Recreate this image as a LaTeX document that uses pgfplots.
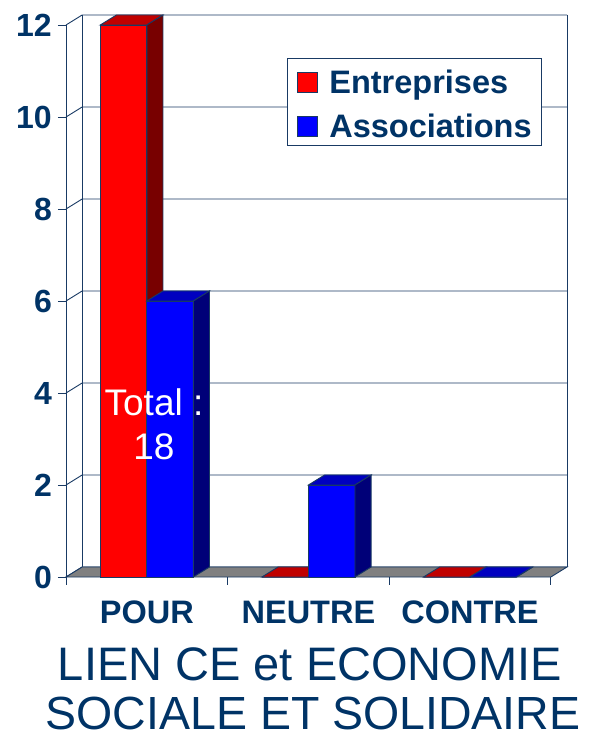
\documentclass[border=0pt]{standalone}
\usepackage{pgfplots}
\pgfplotsset{compat=1.18}
\usepackage{fontspec}
\setmainfont{Liberation Sans}
\definecolor{navy}{RGB}{0,51,102}
\definecolor{gridc}{RGB}{25,58,100}
\definecolor{rtop}{RGB}{192,0,0}
\definecolor{rside}{RGB}{120,0,0}
\definecolor{btop}{RGB}{0,0,192}
\definecolor{bside}{RGB}{0,0,120}
\definecolor{floorc}{RGB}{128,128,128}

\newcommand\ddx{0.1}
\newcommand\ddy{0.2174}
\newcommand\bw{0.288}
% x0, value, front, top, side
\newcommand\tdbar[5]{%
  \pgfmathsetmacro\xa{#1}%
  \pgfmathsetmacro\xb{#1+\bw}%
  \pgfmathsetmacro\xc{#1+\bw+\ddx}%
  \pgfmathsetmacro\xd{#1+\ddx}%
  \pgfmathsetmacro\yt{#2+\ddy}%
  \addplot[forget plot, fill=#3, draw=gridc, line width=0.9bp] coordinates {(\xa,0) (\xb,0) (\xb,#2) (\xa,#2)} -- cycle;
  \addplot[forget plot, fill=#4, draw=gridc, line width=0.9bp] coordinates {(\xa,#2) (\xb,#2) (\xc,\yt) (\xd,\yt)} -- cycle;
  \addplot[forget plot, fill=#5, draw=gridc, line width=0.9bp] coordinates {(\xb,0) (\xc,\ddy) (\xc,\yt) (\xb,#2)} -- cycle;
}

\begin{document}
\begin{tikzpicture}
\useasboundingbox (-66bp,-161bp) rectangle (528bp,577bp);
\begin{axis}[
  scale only axis, width=501bp, height=562bp,
  xmin=-0.5, xmax=2.6, ymin=0, ymax=12.2174,
  clip=false,
  axis line style={draw=none},
  ytick={0,2,4,6,8,10,12},
  xtick={0,1,2}, xticklabels={POUR,NEUTRE,CONTRE},
  ytick pos=left, xtick pos=bottom,
  tick align=outside, major tick length=8bp,
  ytick style={draw=gridc, line width=0.9bp},
  xtick style={draw=none},
  /pgf/number format/assume math mode=true,
  yticklabel style={font=\fontsize{32bp}{38bp}\selectfont\bfseries, text=navy, inner sep=0pt, xshift=-6bp},
  xticklabel style={font=\fontsize{32.5bp}{38bp}\selectfont\bfseries, text=navy, inner sep=0pt, anchor=north, yshift=-16bp},
  legend style={at={(0.4411,0.9235)}, anchor=north west, draw=gridc, line width=0.9bp, fill=white,
    inner xsep=10bp, inner ysep=5bp, row sep=11bp,
    font=\fontsize{32.5bp}{38bp}\selectfont\bfseries, text=navy,
    nodes={inner sep=0pt, text height=30bp, text depth=3bp},
    cells={anchor=base west},
    /tikz/every odd column/.style={column sep=11bp}},
  legend image code/.code={\draw[#1, draw=gridc, line width=0.9bp] (0bp,1bp) rectangle (20bp,21bp);},
]
\addlegendimage{fill=red}
\addlegendimage{fill=blue}
\legend{Entreprises,Associations}

% walls and grid
\pgfplotsinvokeforeach{0,2,4,6,8,10,12}{
  \draw[gridc, line width=0.9bp] (axis cs:-0.5,#1) -- ++(16.16bp,10bp) -- ++(484.84bp,0bp);
}
\draw[gridc, line width=0.9bp] (axis cs:-0.5,0) -- (axis cs:-0.5,12);
\draw[gridc, line width=0.9bp] (axis cs:-0.4,0.2174) -- (axis cs:-0.4,12.2174);
\draw[gridc, line width=0.9bp] (axis cs:2.6,0.2174) -- (axis cs:2.6,12.2174);

% floor
\addplot[forget plot, fill=floorc, draw=gridc, line width=0.9bp] coordinates {(-0.5,0) (2.5,0) (2.6,0.2174) (-0.4,0.2174)} -- cycle;
\pgfplotsinvokeforeach{-0.5,0.5,1.5,2.5}{
  \draw[gridc, line width=0.9bp] (axis cs:#1,0) -- ++(0bp,-8bp);
}

% bars: POUR 12 / 6, NEUTRE 0 / 2, CONTRE 0 / 0
\tdbar{-0.288}{12}{red}{rtop}{rside}
\tdbar{0}{6}{blue}{btop}{bside}
\tdbar{0.712}{0}{red}{rtop}{rside}
\tdbar{1}{2}{blue}{btop}{bside}
\tdbar{1.712}{0}{red}{rtop}{rside}
\tdbar{2}{0}{blue}{btop}{bside}

\node[white, font=\fontsize{37bp}{44bp}\selectfont, anchor=base] at (axis cs:0.0445,3.52) {Total :};
\node[white, font=\fontsize{37bp}{44bp}\selectfont, anchor=base] at (axis cs:0.0445,2.565) {18};
\end{axis}
\node[text=navy, inner sep=0pt, font=\fontsize{47bp}{50bp}\selectfont, anchor=base] at (244bp,-103bp) {LIEN CE et ECONOMIE};
\node[text=navy, inner sep=0pt, font=\fontsize{46.5bp}{50bp}\selectfont, anchor=base] at (247bp,-152bp) {SOCIALE ET SOLIDAIRE};
\end{tikzpicture}
\end{document}
